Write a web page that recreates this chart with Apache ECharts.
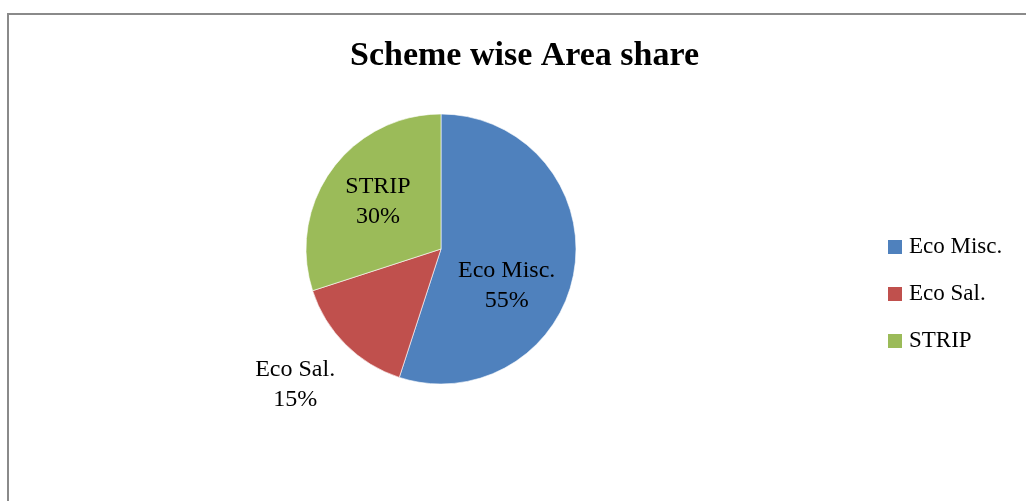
<!DOCTYPE html>
<html>
<head>
<meta charset="utf-8">
<script src="https://cdn.jsdelivr.net/npm/echarts@6/dist/echarts.min.js"></script>
<style>
  html, body { margin: 0; padding: 0; background: #fff; }
  #frame {
    position: absolute; left: 7px; top: 13px; width: 1100px; height: 600px;
    border-left: 2px solid #8a8a8a; border-top: 2px solid #8a8a8a;
  }
  #main { position: absolute; left: 0; top: 0; width: 1026px; height: 501px; }
</style>
</head>
<body>
<div id="frame"></div>
<div id="main"></div>
<script>
// 数据
const categories = ['Eco Misc.', 'Eco Sal.', 'STRIP'];
const values = [55, 15, 30];
const colors = ['#4F81BD', '#C0504D', '#9BBB59'];

// 标签微调（相对默认 inside 位置）
const labelShift = [
    { dx: -4, dy: 26 },
    { dx: -96, dy: 86 },
    { dx: -6, dy: -6 }
];

var myChart = echarts.init(document.getElementById('main'), null, { renderer: 'canvas' });

const fontFamily = '"Liberation Serif", "DejaVu Serif", serif';

option = {
    backgroundColor: 'transparent',
    title: {
        text: 'Scheme wise Area share',
        left: 345,
        top: 34,
        textStyle: {
            fontFamily: fontFamily,
            fontWeight: 'bold',
            fontSize: 34,
            color: '#000'
        }
    },
    legend: {
        orient: 'vertical',
        left: 883,
        top: 230,
        itemWidth: 14,
        itemHeight: 14,
        itemGap: 23,
        icon: 'rect',
        itemStyle: { borderWidth: 0 },
        textStyle: {
            fontFamily: fontFamily,
            fontSize: 23,
            lineHeight: 24,
            color: '#000',
            padding: [0, 0, 0, 2]
        },
        data: categories
    },
    series: [
        {
            type: 'pie',
            center: [441, 249],
            radius: 135,
            startAngle: 90,
            clockwise: true,
            animation: false,
            label: {
                show: true,
                position: 'inside',
                formatter: '{b}\n{d}%',
                fontFamily: fontFamily,
                fontSize: 24,
                lineHeight: 30,
                color: '#000'
            },
            labelLine: { show: false },
            labelLayout: function (params) {
                return labelShift[params.dataIndex];
            },
            itemStyle: {
                borderColor: '#fff',
                borderWidth: 0.6
            },
            emphasis: { disabled: true },
            data: categories.map((name, i) => ({
                name: name,
                value: values[i],
                itemStyle: { color: colors[i] }
            }))
        }
    ]
};
myChart.setOption(option);
</script>
</body>
</html>
